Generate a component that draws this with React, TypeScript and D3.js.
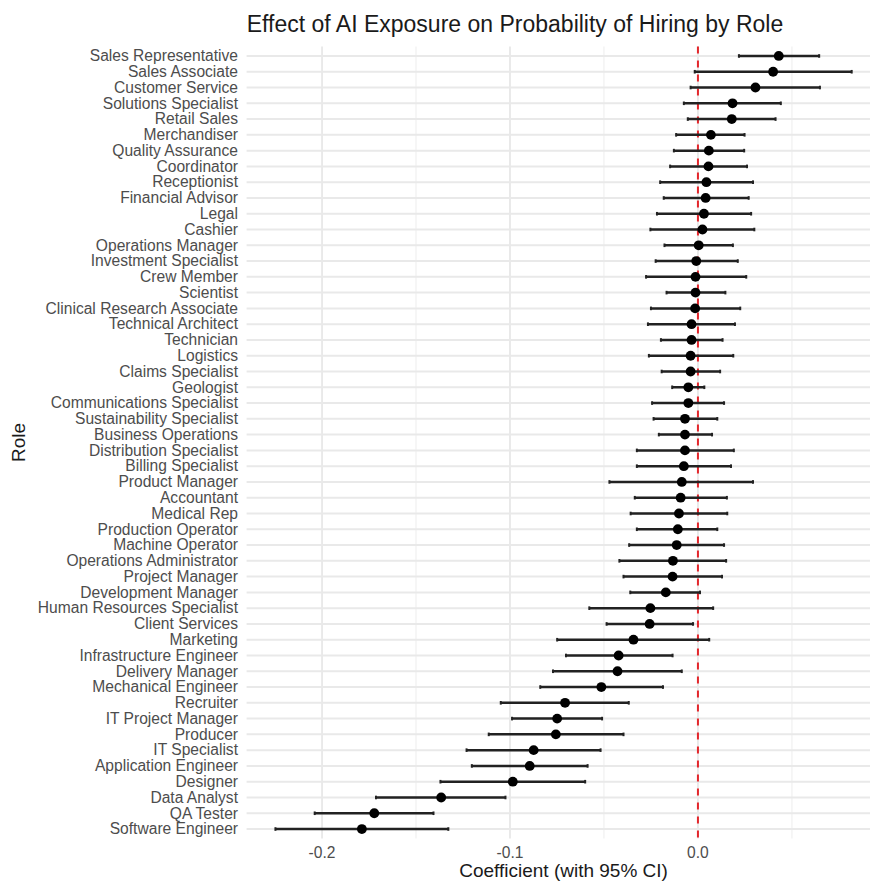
import React from 'react';
import * as d3 from 'd3';

const roles = [
  'Sales Representative', 'Sales Associate', 'Customer Service', 'Solutions Specialist', 'Retail Sales',
  'Merchandiser', 'Quality Assurance', 'Coordinator', 'Receptionist', 'Financial Advisor',
  'Legal', 'Cashier', 'Operations Manager', 'Investment Specialist', 'Crew Member',
  'Scientist', 'Clinical Research Associate', 'Technical Architect', 'Technician', 'Logistics',
  'Claims Specialist', 'Geologist', 'Communications Specialist', 'Sustainability Specialist', 'Business Operations',
  'Distribution Specialist', 'Billing Specialist', 'Product Manager', 'Accountant', 'Medical Rep',
  'Production Operator', 'Machine Operator', 'Operations Administrator', 'Project Manager', 'Development Manager',
  'Human Resources Specialist', 'Client Services', 'Marketing', 'Infrastructure Engineer', 'Delivery Manager',
  'Mechanical Engineer', 'Recruiter', 'IT Project Manager', 'Producer', 'IT Specialist',
  'Application Engineer', 'Designer', 'Data Analyst', 'QA Tester', 'Software Engineer',
];

const estimates = [
  0.043, 0.040, 0.0306, 0.0184, 0.018,
  0.0069, 0.0058, 0.0056, 0.0045, 0.0041,
  0.0032, 0.0024, 0.0004, -0.0009, -0.0013,
  -0.0013, -0.0015, -0.0034, -0.0034, -0.0039,
  -0.0039, -0.0051, -0.0051, -0.0069, -0.0069,
  -0.0069, -0.0075, -0.0086, -0.0092, -0.0101,
  -0.0107, -0.0113, -0.0133, -0.0135, -0.0171,
  -0.0253, -0.0257, -0.0343, -0.0422, -0.0428,
  -0.0514, -0.0707, -0.0749, -0.0756, -0.0874,
  -0.0895, -0.0985, -0.1366, -0.1722, -0.1788,
];

const lower = [
  0.0218, -0.0017, -0.0039, -0.0075, -0.0054,
  -0.0116, -0.0128, -0.0148, -0.0201, -0.0182,
  -0.0218, -0.0253, -0.0178, -0.0225, -0.0276,
  -0.0167, -0.025, -0.0266, -0.0197, -0.0261,
  -0.0193, -0.0137, -0.0244, -0.0236, -0.0208,
  -0.0325, -0.0325, -0.0471, -0.0336, -0.0358,
  -0.0325, -0.0366, -0.0418, -0.0396, -0.036,
  -0.0578, -0.0486, -0.0749, -0.0702, -0.0771,
  -0.0839, -0.1049, -0.0989, -0.1113, -0.1231,
  -0.1203, -0.137, -0.1713, -0.2039, -0.2248,
];

const upper = [
  0.0645, 0.0818, 0.0649, 0.0441, 0.0413,
  0.0248, 0.0246, 0.0261, 0.0293, 0.027,
  0.0283, 0.030, 0.0186, 0.0212, 0.0257,
  0.0146, 0.0225, 0.0197, 0.0131, 0.0188,
  0.0118, 0.0034, 0.0139, 0.0103, 0.0075,
  0.0191, 0.0176, 0.0293, 0.0154, 0.0156,
  0.0103, 0.0139, 0.015, 0.0128, 0.0011,
  0.0081, -0.0026, 0.006, -0.0135, -0.0086,
  -0.0186, -0.0368, -0.051, -0.0396, -0.0518,
  -0.0587, -0.060, -0.1024, -0.1407, -0.1328,
];

const majorTicks = [-0.2, -0.1, 0.0];
const minorTicks = [-0.15, -0.05, 0.05];
const tickLabels = ['-0.2', '-0.1', '0.0'];

const FONT = '"Liberation Sans", Arial, Helvetica, sans-serif';

export default function App() {
  const W = 870;
  const H = 882;
  const panel = { left: 246.6, right: 880.5, top: 46.5, bottom: 838.5 };

  const lo = d3.min(lower) as number;
  const hi = d3.max(upper) as number;
  const pad = (hi - lo) * 0.05;
  const x = d3.scaleLinear().domain([lo - pad, hi + pad]).range([panel.left, panel.right]);
  const y = d3.scalePoint<string>().domain(roles).range([panel.top, panel.bottom]).padding(0.6);

  const rows = roles.map((r, i) => ({ role: r, est: estimates[i], lo: lower[i], hi: upper[i] }));

  return (
    <div style={{ position: 'absolute', left: 0, top: 0 }}>
      <svg width={W} height={H} style={{ display: 'block', background: '#ffffff' }} fontFamily={FONT}>
        <rect x={0} y={0} width={W} height={H} fill="#ffffff" />
        {minorTicks.map((t) => (
          <line key={'mn' + t} x1={x(t)} x2={x(t)} y1={panel.top} y2={panel.bottom} stroke="#f0f0f0" strokeWidth={1.2} />
        ))}
        {majorTicks.map((t) => (
          <line key={'mj' + t} x1={x(t)} x2={x(t)} y1={panel.top} y2={panel.bottom} stroke="#e8e8e8" strokeWidth={1.8} />
        ))}
        {roles.map((r) => (
          <line key={'hg' + r} x1={panel.left} x2={panel.right} y1={y(r)} y2={y(r)} stroke="#e9e9e9" strokeWidth={2} />
        ))}
        <line x1={x(0)} x2={x(0)} y1={panel.top} y2={panel.bottom} stroke="#e3262b" strokeWidth={2} strokeDasharray="7,7" />
        {rows.map((d) => {
          const yy = y(d.role) as number;
          return (
            <g key={'eb' + d.role}>
              <line x1={x(d.lo)} x2={x(d.hi)} y1={yy} y2={yy} stroke="#222222" strokeWidth={2.5} />
              <line x1={x(d.lo)} x2={x(d.lo)} y1={yy - 1.8} y2={yy + 1.8} stroke="#222222" strokeWidth={2} />
              <line x1={x(d.hi)} x2={x(d.hi)} y1={yy - 1.8} y2={yy + 1.8} stroke="#222222" strokeWidth={2} />
            </g>
          );
        })}
        {rows.map((d) => (
          <circle key={'pt' + d.role} cx={x(d.est)} cy={y(d.role) as number} r={4.9} fill="#000000" />
        ))}
        {roles.map((r) => (
          <text key={'yl' + r} x={238} y={(y(r) as number) + 5.3} textAnchor="end" fontSize={15.6} fill="#4d4d4d">
            {r}
          </text>
        ))}
        {majorTicks.map((t, i) => (
          <text key={'xl' + t} x={x(t)} y={858} textAnchor="middle" fontSize={15.6} fill="#4d4d4d">
            {tickLabels[i]}
          </text>
        ))}
        <text x={515} y={32} textAnchor="middle" fontSize={23} fill="#1a1a1a">
          Effect of AI Exposure on Probability of Hiring by Role
        </text>
        <text x={(panel.left + panel.right) / 2} y={877} textAnchor="middle" fontSize={19} fill="#1a1a1a">
          Coefficient (with 95% CI)
        </text>
        <text transform={`translate(25,${(panel.top + panel.bottom) / 2}) rotate(-90)`} textAnchor="middle" fontSize={19} fill="#1a1a1a">
          Role
        </text>
      </svg>
    </div>
  );
}
